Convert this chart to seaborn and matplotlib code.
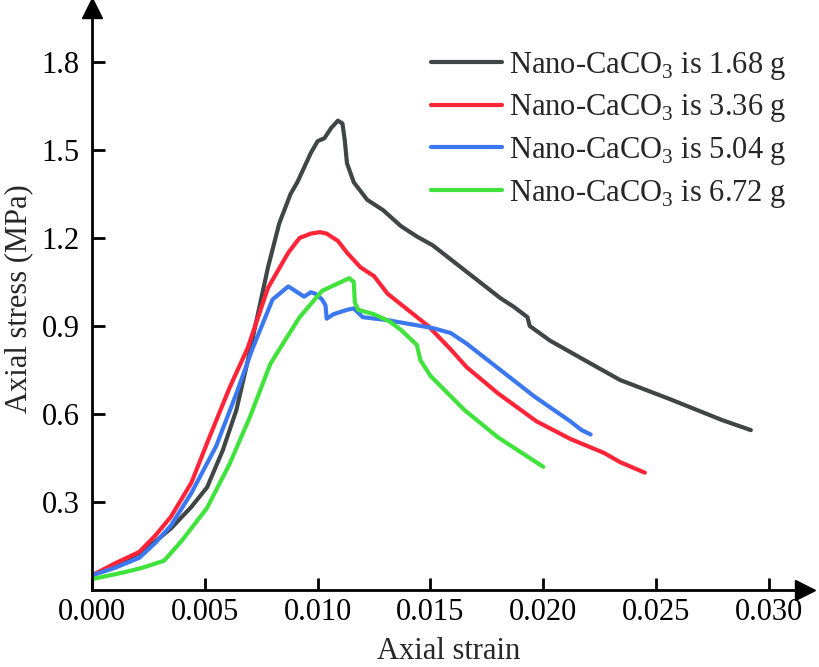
import pandas as pd
import seaborn as sns
import matplotlib.pyplot as plt

# === Curves (axial strain, axial stress MPa) ===
labels = ["Nano-CaCO$_3$ is 1.68 g", "Nano-CaCO$_3$ is 3.36 g",
          "Nano-CaCO$_3$ is 5.04 g", "Nano-CaCO$_3$ is 6.72 g"]
colors = ["#404545", "#ff2438", "#3b78f0", "#40e23c"]

strain_168 = [0, 0.0010, 0.0021, 0.0028, 0.0035, 0.0044, 0.0051, 0.0058, 0.0064, 0.0069,
              0.0078, 0.0083, 0.0088, 0.0091, 0.0097, 0.0100, 0.0103, 0.0106, 0.0109, 0.0111,
              0.0112, 0.0113, 0.0116, 0.0122, 0.0129, 0.0137, 0.0144, 0.0151, 0.0166, 0.0181,
              0.0187, 0.0193, 0.0194, 0.0203, 0.0218, 0.0234, 0.0257, 0.0279, 0.0292]
stress_168 = [0.05, 0.085, 0.126, 0.165, 0.21, 0.283, 0.35, 0.477, 0.614, 0.78,
              1.10, 1.25, 1.35, 1.39, 1.49, 1.53, 1.54, 1.575, 1.60, 1.59,
              1.535, 1.455, 1.39, 1.33, 1.295, 1.24, 1.205, 1.175, 1.085, 0.995,
              0.965, 0.93, 0.90, 0.85, 0.785, 0.716, 0.648, 0.58, 0.545]

strain_336 = [0, 0.0010, 0.0021, 0.0028, 0.0035, 0.0044, 0.0052, 0.0061, 0.0069, 0.0078,
              0.0087, 0.0092, 0.0097, 0.0101, 0.0104, 0.0109, 0.0113, 0.0119, 0.0125, 0.0131,
              0.0140, 0.0149, 0.0159, 0.0166, 0.0180, 0.0197, 0.0212, 0.0227, 0.0234, 0.0245]
stress_336 = [0.05, 0.09, 0.13, 0.185, 0.25, 0.365, 0.52, 0.69, 0.825, 1.03,
              1.15, 1.20, 1.215, 1.22, 1.215, 1.19, 1.15, 1.10, 1.07, 1.01,
              0.955, 0.90, 0.82, 0.76, 0.67, 0.575, 0.515, 0.467, 0.436, 0.40]

strain_504 = [0, 0.0010, 0.0021, 0.0028, 0.0035, 0.0044, 0.0055, 0.0064, 0.0071, 0.0080,
              0.0087, 0.0092, 0.0094, 0.0097, 0.0099, 0.0102, 0.01035, 0.0104, 0.0107, 0.0113,
              0.0116, 0.0120, 0.0131, 0.0142, 0.0151, 0.0159, 0.0166, 0.0181, 0.0196, 0.0212,
              0.0217, 0.0221]
stress_504 = [0.05, 0.075, 0.11, 0.16, 0.22, 0.33, 0.49, 0.67, 0.82, 0.99,
              1.035, 1.01, 1.0, 1.015, 1.01, 0.99, 0.97, 0.925, 0.94, 0.955,
              0.96, 0.93, 0.92, 0.905, 0.893, 0.876, 0.84, 0.75, 0.66, 0.575,
              0.545, 0.53]

strain_672 = [0, 0.0014, 0.0022, 0.0032, 0.0040, 0.0051, 0.0061, 0.0070, 0.0079, 0.0083,
              0.0092, 0.0102, 0.0109, 0.0114, 0.0116, 0.01165, 0.0118, 0.0125, 0.0132, 0.0137,
              0.0142, 0.0144, 0.01455, 0.0150, 0.0165, 0.0180, 0.0200]
stress_672 = [0.037, 0.06, 0.075, 0.10, 0.17, 0.28, 0.43, 0.59, 0.77, 0.82,
              0.93, 1.02, 1.045, 1.063, 1.05, 0.98, 0.955, 0.94, 0.915, 0.886,
              0.85, 0.835, 0.784, 0.73, 0.614, 0.52, 0.42]

x_ticks = [0.000, 0.005, 0.010, 0.015, 0.020, 0.025, 0.030]
y_ticks = [0.3, 0.6, 0.9, 1.2, 1.5, 1.8]

# === Long table for seaborn ===
frames = []
for lab, xs, ys in zip(labels,
                       [strain_168, strain_336, strain_504, strain_672],
                       [stress_168, stress_336, stress_504, stress_672]):
    frames.append(pd.DataFrame({"strain": xs, "stress": ys, "group": lab}))
df = pd.concat(frames, ignore_index=True)

sns.set_style("ticks")
plt.rcParams["font.family"] = ["Liberation Serif", "DejaVu Serif"]
plt.rcParams["mathtext.fontset"] = "custom"
plt.rcParams["mathtext.rm"] = "Liberation Serif"
plt.rcParams["lines.solid_capstyle"] = "round"
plt.rcParams["lines.solid_joinstyle"] = "round"

fig = plt.figure(figsize=(8.2, 6.67), dpi=100)
ax = fig.add_axes([92 / 820, 77 / 667, 713 / 820, 582 / 667])

sns.lineplot(data=df, x="strain", y="stress", hue="group", palette=colors,
             sort=False, estimator=None, linewidth=3, ax=ax)

ax.set_xlim(0, 0.0316)
ax.set_ylim(0, 1.984)
ax.set_xticks(x_ticks)
ax.set_xticklabels([f"{v:.3f}" for v in x_ticks])
ax.set_yticks(y_ticks)
ax.set_yticklabels([f"{v:.1f}" for v in y_ticks])
ax.tick_params(direction="in", length=9, width=2, labelsize=22, colors="black")
ax.tick_params(axis="y", pad=9)
ax.tick_params(axis="x", pad=6)

for side in ["top", "right"]:
    ax.spines[side].set_visible(False)
for side in ["left", "bottom"]:
    ax.spines[side].set_linewidth(2)
    ax.spines[side].set_color("black")

# arrow heads at the ends of the axes
ax.plot(1, 0, ">", color="black", markersize=15, transform=ax.transAxes, clip_on=False)
ax.plot(0, 1, "^", color="black", markersize=15, transform=ax.transAxes, clip_on=False)

ax.set_xlabel("Axial strain", fontsize=22, labelpad=7)
ax.set_ylabel("Axial stress (MPa)", fontsize=22, labelpad=6)

ax.legend(frameon=False, fontsize=22, loc="upper right", bbox_to_anchor=(1.0, 0.96),
          handlelength=2.3, handletextpad=0.25, labelspacing=0.35, borderaxespad=0.2)

plt.savefig("out.png", dpi=100)
